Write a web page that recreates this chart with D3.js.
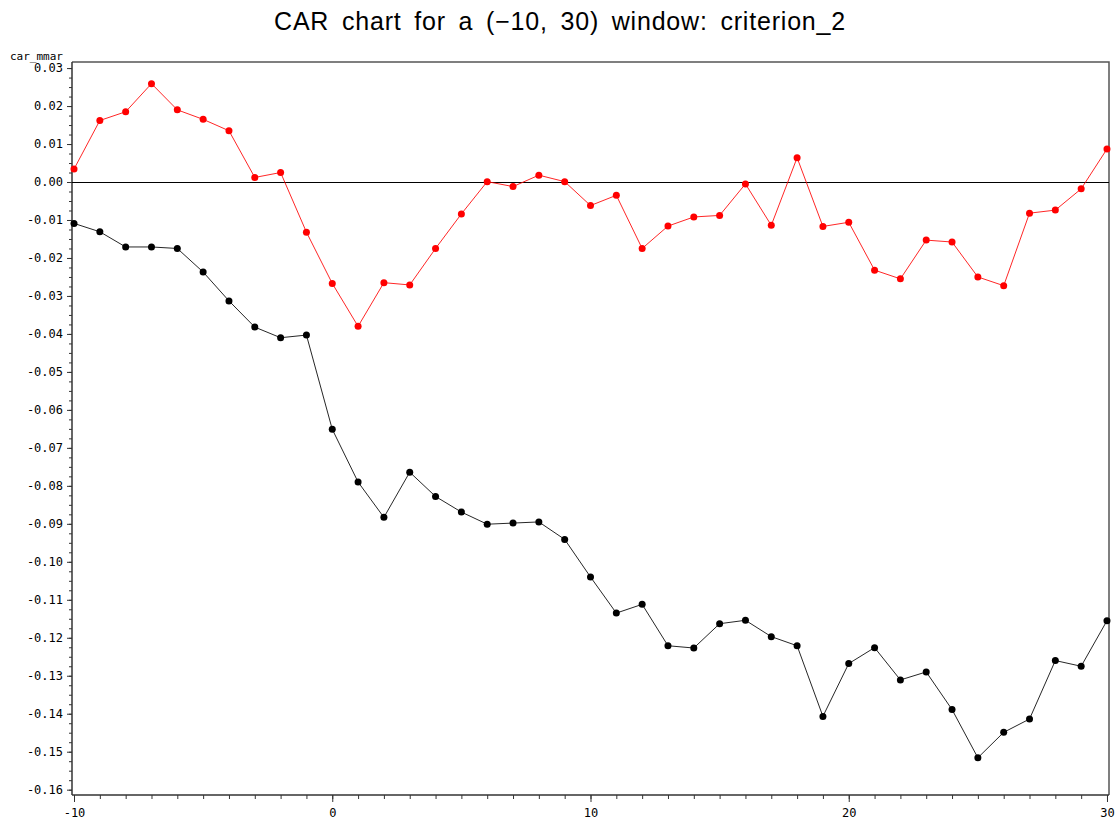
<!DOCTYPE html>
<html>
<head>
<meta charset="utf-8">
<script src="https://cdn.jsdelivr.net/npm/d3@7"></script>
<style>
  html, body { margin: 0; padding: 0; background: #fff; }
  svg { display: block; }
</style>
</head>
<body>
<svg id="chart" width="1116" height="827"></svg>
<script>
// Event days in the (-10, 30) window
const eventDays = d3.range(-10, 31);

// Cumulative abnormal returns, series 1 (red)
const carRed = [
  0.0034, 0.0162, 0.0185, 0.0259, 0.0190, 0.0165, 0.0135, 0.0012, 0.0025, -0.0132,
  -0.0267, -0.0380, -0.0265, -0.0271, -0.0175, -0.0084, 0.0001, -0.0012, 0.0018, 0.0001,
  -0.0062, -0.0035, -0.0175, -0.0116, -0.0092, -0.0088, -0.0005, -0.0114, 0.0064, -0.0117,
  -0.0106, -0.0232, -0.0255, -0.0153, -0.0158, -0.0250, -0.0273, -0.0082, -0.0074, -0.0018,
  0.0087
];

// Cumulative abnormal returns, series 2 (black)
const carBlack = [
  -0.0109, -0.0131, -0.0171, -0.0171, -0.0175, -0.0237, -0.0313, -0.0382, -0.0410, -0.0403,
  -0.0651, -0.0790, -0.0883, -0.0764, -0.0828, -0.0869, -0.0901, -0.0898, -0.0895, -0.0941,
  -0.1040, -0.1135, -0.1112, -0.1221, -0.1227, -0.1163, -0.1154, -0.1197, -0.1221, -0.1407,
  -0.1268, -0.1226, -0.1311, -0.1290, -0.1389, -0.1516, -0.1449, -0.1414, -0.1260, -0.1275,
  -0.1155
];

// Axis tick values and labels
const yTickValues = d3.range(3, -17, -1).map(v => v / 100);
const yMinorTicks = d3.range(30, -161, -2.5).map(v => v / 1000);
const xMajorTicks = [-10, 0, 10, 20, 30];
const xMinorTicks = d3.range(-10, 31);

const titleText = "CAR chart for a (\u221210, 30) window: criterion_2";
const yLabelText = "car_mmar";

const svg = d3.select("#chart");
const plot = { left: 72, right: 1109, top: 62, bottom: 795 };

const x = d3.scaleLinear().domain([-10.078, 30.078]).range([plot.left, plot.right]);
const y = d3.scaleLinear().domain([0.0316, -0.1614]).range([plot.top, plot.bottom]);

const monoFont = "'DejaVu Sans Mono', monospace";

// Title
svg.append("text")
  .attr("x", 560).attr("y", 30)
  .attr("text-anchor", "middle")
  .attr("font-family", "'Liberation Sans', Arial, sans-serif")
  .attr("font-size", 25)
  .attr("letter-spacing", 0.8)
  .attr("word-spacing", 5)
  .attr("fill", "#000")
  .text(titleText);

// Y variable label
svg.append("text")
  .attr("x", 10).attr("y", 60)
  .attr("font-family", monoFont)
  .attr("font-size", 11)
  .attr("fill", "#000")
  .text(yLabelText);

// Frame: top and right borders
svg.append("path")
  .attr("d", `M${plot.left},${plot.top}H${plot.right}V${plot.bottom}`)
  .attr("fill", "none")
  .attr("stroke", "#555")
  .attr("stroke-width", 1.5);

// Y axis with minor ticks
const yMinor = d3.axisLeft(y).tickValues(yMinorTicks).tickSize(3).tickFormat("");
svg.append("g").attr("transform", `translate(${plot.left},0)`).call(yMinor)
  .call(g => g.select(".domain").remove())
  .selectAll("line").attr("stroke", "#333");

const yAxis = d3.axisLeft(y).tickValues(yTickValues).tickSize(5).tickPadding(4)
  .tickFormat(d => d3.format(".2f")(d).replace("\u2212", "-"));
const yg = svg.append("g").attr("transform", `translate(${plot.left},0)`).call(yAxis);
yg.select(".domain").remove();
yg.selectAll("line").attr("stroke", "#333");
yg.selectAll("text").attr("font-family", monoFont).attr("font-size", 12).attr("fill", "#000");

// X axis with minor ticks
const xMinor = d3.axisBottom(x).tickValues(xMinorTicks).tickSize(4).tickFormat("");
svg.append("g").attr("transform", `translate(0,${plot.bottom})`).call(xMinor)
  .call(g => g.select(".domain").remove())
  .selectAll("line").attr("stroke", "#333");

const xAxis = d3.axisBottom(x).tickValues(xMajorTicks).tickSize(7).tickPadding(6)
  .tickFormat(d => String(d));
const xg = svg.append("g").attr("transform", `translate(0,${plot.bottom})`).call(xAxis);
xg.select(".domain").remove();
xg.selectAll("line").attr("stroke", "#333");
xg.selectAll("text").attr("font-family", monoFont).attr("font-size", 12).attr("fill", "#000");

// Axis lines
svg.append("line")
  .attr("x1", plot.left).attr("x2", plot.left)
  .attr("y1", plot.top).attr("y2", plot.bottom)
  .attr("stroke", "#333").attr("stroke-width", 1.5);
svg.append("line")
  .attr("x1", plot.left).attr("x2", plot.right)
  .attr("y1", plot.bottom).attr("y2", plot.bottom)
  .attr("stroke", "#333").attr("stroke-width", 1.5);

// Zero reference line
svg.append("line")
  .attr("x1", plot.left).attr("x2", plot.right)
  .attr("y1", Math.round(y(0)) + 0.5).attr("y2", Math.round(y(0)) + 0.5)
  .attr("stroke", "#000").attr("stroke-width", 1);

// Series
const series = [
  { values: carBlack, color: "#000000" },
  { values: carRed, color: "#ff0000" }
];

const line = d3.line().x(d => x(d.day)).y(d => y(d.car));

series.forEach(s => {
  const pts = eventDays.map((day, i) => ({ day, car: s.values[i] }));
  svg.append("path")
    .datum(pts)
    .attr("d", line)
    .attr("fill", "none")
    .attr("stroke", s.color)
    .attr("stroke-width", 1)
    .attr("stroke-opacity", 0.85);
  svg.append("g").selectAll("circle")
    .data(pts)
    .join("circle")
    .attr("cx", d => x(d.day))
    .attr("cy", d => y(d.car))
    .attr("r", 3.5)
    .attr("fill", s.color);
});
</script>
</body>
</html>
